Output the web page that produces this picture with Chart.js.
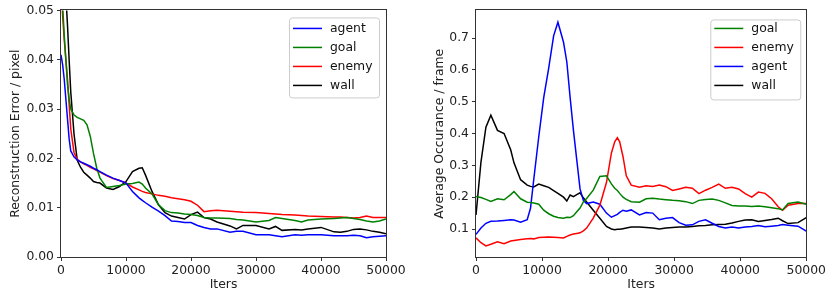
<!DOCTYPE html>
<html>
<head>
<meta charset="utf-8">
<script src="https://cdn.jsdelivr.net/npm/chart.js@4.4.0/dist/chart.umd.min.js"></script>
<style>
  html, body { margin: 0; padding: 0; background: #fff; }
  #wrap { position: relative; width: 828px; height: 292px; }
  canvas { position: absolute; top: 0; }
  #errChart { left: 0; }
  #occChart { left: 414px; }
</style>
</head>
<body>
<div id="wrap">
  <canvas id="errChart" width="414" height="292"></canvas>
  <canvas id="occChart" width="414" height="292"></canvas>
</div>
<script>
// Left panel: reconstruction error per pixel
const ERR_ITERS = [0, 250, 500, 750, 1000, 1250, 1500, 2000, 2500, 3000, 3500, 4000, 4500, 5000, 5500, 6000,
  7000, 8000, 9000, 10000, 11000, 12000, 12500, 13000, 14000, 15000, 16000, 17000, 18000, 19000, 20000,
  21000, 22000, 23000, 24000, 26000, 27000, 28000, 30000, 32000, 33000, 34000, 36000, 37000, 38000,
  40000, 42000, 43000, 44000, 45000, 46000, 47000, 48000, 49000, 50000];

const errAgent = [0.041, 0.039, 0.036, 0.032, 0.028, 0.024, 0.0215, 0.0203, 0.0197, 0.0193, 0.019, 0.0187, 0.0184, 0.018, 0.0177, 0.0173,
  0.0166, 0.016, 0.0155, 0.015, 0.0133, 0.012, 0.0115, 0.011, 0.0101, 0.0093, 0.0084, 0.0073, 0.0072, 0.007, 0.007,
  0.0064, 0.006, 0.0057, 0.0057, 0.005, 0.0052, 0.0052, 0.0045, 0.0045, 0.0043, 0.0041, 0.0045, 0.0044, 0.0045,
  0.0045, 0.0043, 0.0043, 0.0043, 0.0044, 0.0043, 0.0039, 0.0041, 0.0042, 0.0043];

const errGoal = [0.06, 0.051, 0.045, 0.04, 0.035, 0.032, 0.030, 0.0288, 0.0283, 0.028, 0.0277, 0.0268, 0.0245, 0.021, 0.018, 0.016,
  0.0141, 0.0143, 0.0145, 0.0148, 0.0149, 0.0152, 0.0148, 0.014, 0.0128, 0.0106, 0.0094, 0.009, 0.0089, 0.0087, 0.0086,
  0.0084, 0.008, 0.0079, 0.0079, 0.0078, 0.0076, 0.0075, 0.0071, 0.0074, 0.008, 0.0078, 0.0074, 0.0071, 0.0075,
  0.0077, 0.0078, 0.0079, 0.008, 0.0078, 0.0076, 0.0073, 0.0071, 0.0073, 0.0077];

const errEnemy = [0.055, 0.049, 0.044, 0.04, 0.036, 0.031, 0.026, 0.0212, 0.0198, 0.0193, 0.0189, 0.0186, 0.0182, 0.0179, 0.0175, 0.0172,
  0.0165, 0.0159, 0.0155, 0.015, 0.0142, 0.0136, 0.0133, 0.0131, 0.0128, 0.0125, 0.0123, 0.012, 0.0118, 0.0116, 0.0113,
  0.0105, 0.0092, 0.0094, 0.0095, 0.0093, 0.0092, 0.0091, 0.009, 0.0088, 0.0087, 0.0086, 0.0085, 0.0084, 0.0083,
  0.0082, 0.0081, 0.0081, 0.008, 0.0079, 0.008, 0.0083, 0.008, 0.008, 0.008];

const errWall = [0.07, 0.065, 0.06, 0.053, 0.047, 0.04, 0.0335, 0.025, 0.0196, 0.0182, 0.0172, 0.0166, 0.016, 0.0153, 0.0151, 0.015,
  0.014, 0.0137, 0.0143, 0.0153, 0.0173, 0.018, 0.0181, 0.0166, 0.0133, 0.0106, 0.009, 0.0083, 0.008, 0.0077, 0.0086,
  0.0091, 0.008, 0.0077, 0.0071, 0.0063, 0.0057, 0.0064, 0.0064, 0.0057, 0.0062, 0.0054, 0.0056, 0.0055, 0.0057,
  0.006, 0.0051, 0.005, 0.0052, 0.0056, 0.0057, 0.0055, 0.0052, 0.005, 0.0047];

// Right panel: average occurance per frame
const OCC_ITERS = [0, 750, 1500, 2250, 3250, 4250, 5250, 5750, 6750, 7750, 8250, 8750, 9500, 10250, 11000, 11750,
  12400, 13250, 13750, 14250, 14750, 15250, 15750, 16250, 16750, 17750, 18750, 19750, 20500, 21000, 21400,
  21750, 22250, 22750, 23500, 24750, 25750, 26750, 27750, 28750, 29750, 30750, 31750, 32750, 33750, 34750,
  35750, 36750, 37750, 38750, 39750, 40750, 41750, 42750, 43750, 44750, 45750, 46400, 47250, 48750, 50000];

const occGoal = [0.202, 0.199, 0.193, 0.187, 0.195, 0.192, 0.208, 0.218, 0.195, 0.184, 0.183, 0.182, 0.178, 0.159, 0.148, 0.140,
  0.136, 0.134, 0.137, 0.136, 0.142, 0.154, 0.166, 0.185, 0.196, 0.222, 0.265, 0.267, 0.242, 0.228, 0.221,
  0.212, 0.200, 0.193, 0.186, 0.184, 0.195, 0.197, 0.194, 0.192, 0.190, 0.189, 0.186, 0.180, 0.190, 0.193,
  0.194, 0.190, 0.182, 0.174, 0.172, 0.172, 0.171, 0.172, 0.170, 0.167, 0.164, 0.160, 0.180, 0.185, 0.178];

const occEnemy = [0.072, 0.057, 0.047, 0.052, 0.060, 0.054, 0.062, 0.064, 0.067, 0.069, 0.070, 0.069, 0.073, 0.074, 0.075, 0.074,
  0.073, 0.072, 0.077, 0.081, 0.084, 0.086, 0.088, 0.094, 0.103, 0.134, 0.175, 0.246, 0.339, 0.374, 0.387,
  0.374, 0.328, 0.267, 0.238, 0.231, 0.236, 0.234, 0.238, 0.233, 0.221, 0.226, 0.231, 0.228, 0.211, 0.222,
  0.231, 0.241, 0.228, 0.231, 0.226, 0.211, 0.200, 0.216, 0.212, 0.195, 0.170, 0.159, 0.175, 0.180, 0.180];

const occAgent = [0.083, 0.103, 0.118, 0.124, 0.125, 0.127, 0.129, 0.128, 0.121, 0.129, 0.165, 0.257, 0.39, 0.513, 0.605, 0.707,
  0.750, 0.687, 0.625, 0.513, 0.41, 0.318, 0.226, 0.19, 0.18, 0.185, 0.178, 0.150, 0.137, 0.142, 0.146,
  0.152, 0.159, 0.156, 0.160, 0.144, 0.152, 0.150, 0.129, 0.134, 0.136, 0.120, 0.112, 0.113, 0.124, 0.129,
  0.118, 0.108, 0.103, 0.106, 0.103, 0.106, 0.108, 0.111, 0.107, 0.109, 0.111, 0.114, 0.112, 0.109, 0.093];

const occWall = [0.144, 0.31, 0.420, 0.458, 0.410, 0.400, 0.349, 0.308, 0.255, 0.238, 0.234, 0.232, 0.241, 0.236, 0.231, 0.221,
  0.212, 0.200, 0.188, 0.207, 0.202, 0.208, 0.214, 0.198, 0.185, 0.159, 0.134, 0.108, 0.100, 0.098, 0.099,
  0.099, 0.101, 0.103, 0.106, 0.106, 0.105, 0.103, 0.100, 0.103, 0.105, 0.106, 0.106, 0.108, 0.110, 0.111,
  0.113, 0.114, 0.115, 0.119, 0.124, 0.128, 0.129, 0.124, 0.127, 0.130, 0.134, 0.126, 0.117, 0.120, 0.136];

const X_TICKS = [0, 10000, 20000, 30000, 40000, 50000];
const ERR_Y_TICKS = [0, 0.01, 0.02, 0.03, 0.04, 0.05];
const OCC_Y_TICKS = [0.1, 0.2, 0.3, 0.4, 0.5, 0.6, 0.7];

const FONT = "'DejaVu Sans', sans-serif";
const FONT_SIZE = 12.4;
const AXIS_COLOR = "#333";
const COLORS = { agent: "#0000ff", goal: "#008000", enemy: "#ff0000", wall: "#000000" };

Chart.defaults.font.family = FONT;
Chart.defaults.font.size = FONT_SIZE;
Chart.defaults.color = "#222";

function series(label, iters, values) {
  return {
    label,
    data: iters.map((x, i) => ({ x, y: values[i] })),
    borderColor: COLORS[label],
    borderWidth: 1.5,
    pointRadius: 0,
    fill: false,
    tension: 0
  };
}

// draws the full box around the plot and a matplotlib-style legend
const frameLegend = {
  id: "frameLegend",
  afterDatasetsDraw(chart, args, opts) {
    const { ctx, chartArea: a } = chart;
    ctx.save();
    ctx.strokeStyle = AXIS_COLOR;
    ctx.lineWidth = 1;
    ctx.strokeRect(Math.round(a.left) - 0.5, Math.round(a.top) - 0.5,
      Math.round(a.right - a.left) + 1, Math.round(a.bottom - a.top) + 1);

    const w = 90, h = 80, rowH = 19;
    const x0 = a.right - opts.right - w;
    const y0 = a.top + opts.top;
    ctx.beginPath();
    ctx.roundRect(x0 + 0.5, y0 + 0.5, w, h, 3);
    ctx.fillStyle = "rgba(255,255,255,0.8)";
    ctx.fill();
    ctx.strokeStyle = "#cccccc";
    ctx.stroke();

    ctx.font = FONT_SIZE + "px " + FONT;
    ctx.textBaseline = "middle";
    chart.data.datasets.forEach((ds, i) => {
      const y = y0 + opts.firstRow + i * rowH;
      ctx.strokeStyle = ds.borderColor;
      ctx.lineWidth = 1.5;
      ctx.beginPath();
      ctx.moveTo(x0 + 4, y);
      ctx.lineTo(x0 + 33, y);
      ctx.stroke();
      ctx.fillStyle = "#111";
      ctx.fillText(ds.label, x0 + 41, y);
    });
    ctx.restore();
  }
};

function buildChart(canvasId, cfg) {
  const gridOpts = {
    display: true,
    drawOnChartArea: false,
    drawTicks: true,
    tickLength: 4,
    color: AXIS_COLOR
  };
  return new Chart(document.getElementById(canvasId), {
    type: "line",
    data: { datasets: cfg.datasets },
    options: {
      responsive: false,
      animation: false,
      devicePixelRatio: 1,
      layout: { padding: { top: cfg.padTop, right: cfg.padRight, left: 0, bottom: 0 } },
      plugins: {
        legend: { display: false },
        tooltip: { enabled: false },
        frameLegend: cfg.legend
      },
      scales: {
        x: {
          type: "linear",
          min: 0,
          max: 50000,
          grid: gridOpts,
          border: { display: false },
          ticks: { padding: 2, maxRotation: 0, callback: v => String(v) },
          afterBuildTicks: s => { s.ticks = X_TICKS.map(v => ({ value: v })); },
          afterFit: s => { s.height = 35; },
          title: { display: true, text: "Iters", padding: { top: 0, bottom: 0 }, font: { size: FONT_SIZE } }
        },
        y: {
          type: "linear",
          min: cfg.yMin,
          max: cfg.yMax,
          grid: gridOpts,
          border: { display: false },
          ticks: { padding: 3, callback: v => v.toFixed(cfg.decimals) },
          afterBuildTicks: s => { s.ticks = cfg.yTicks.map(v => ({ value: v })); },
          afterFit: s => { s.width = cfg.yWidth; },
          title: { display: true, text: cfg.yTitle, padding: { top: cfg.titlePad, bottom: 0 }, font: { size: FONT_SIZE } }
        }
      }
    },
    plugins: [frameLegend]
  });
}

buildChart("errChart", {
  datasets: [
    series("agent", ERR_ITERS, errAgent),
    series("goal", ERR_ITERS, errGoal),
    series("enemy", ERR_ITERS, errEnemy),
    series("wall", ERR_ITERS, errWall)
  ],
  yMin: 0, yMax: 0.05, yTicks: ERR_Y_TICKS, decimals: 2,
  yTitle: "Reconstruction Error / pixel",
  yWidth: 61, padTop: 6, padRight: 28, titlePad: 8,
  legend: { right: 7, top: 7, firstRow: 11 }
});

buildChart("occChart", {
  datasets: [
    series("goal", OCC_ITERS, occGoal),
    series("enemy", OCC_ITERS, occEnemy),
    series("agent", OCC_ITERS, occAgent),
    series("wall", OCC_ITERS, occWall)
  ],
  yMin: 0.012, yMax: 0.787, yTicks: OCC_Y_TICKS, decimals: 1,
  yTitle: "Average Occurance / frame",
  yWidth: 62, padTop: 4, padRight: 20, titlePad: 18,
  legend: { right: 6, top: 9, firstRow: 9 }
});
</script>
</body>
</html>
